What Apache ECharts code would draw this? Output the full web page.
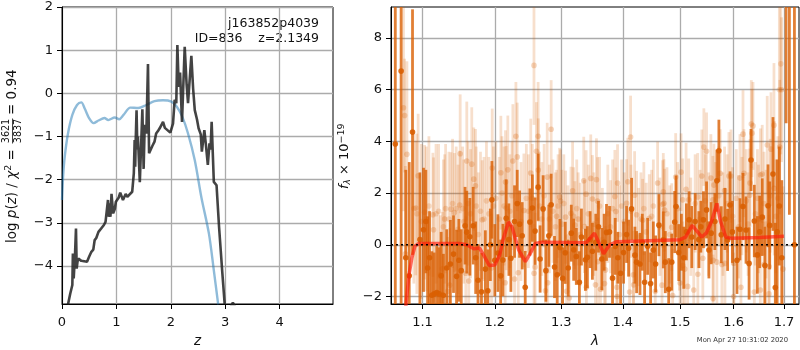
<!DOCTYPE html>
<html>
<head>
<meta charset="utf-8">
<title>j163852p4039</title>
<script src="https://cdn.jsdelivr.net/npm/echarts@6/dist/echarts.min.js"></script>
<style>
  html, body { margin: 0; padding: 0; background: #fff; }
  #chart { width: 800px; height: 350px; }
</style>
</head>
<body>
<div id="chart"></div>
<script>
// left panel: redshift curves
var zTicks = [0, 1, 2, 3, 4];
var logpTicks = [-4, -3, -2, -1, 0, 1, 2];
var pzCurve = [
  [0.11,-4.89],[0.15,-4.65],[0.19,-4.44],[0.20,-3.71],[0.215,-4.29],[0.24,-3.71],[0.257,-3.13],[0.27,-4.06],[0.285,-3.9],[0.30,-3.83],
  [0.33,-3.87],[0.355,-3.88],[0.39,-3.85],[0.46,-3.90],[0.5,-3.78],[0.54,-3.67],[0.575,-3.62],[0.60,-3.4],[0.63,-3.35],[0.67,-3.21],[0.72,-3.13],[0.77,-3.05],[0.80,-2.98],[0.83,-2.98],[0.845,-2.47],
  [0.86,-2.86],[0.875,-2.55],[0.89,-2.86],[0.91,-2.33],[0.94,-2.78],[0.97,-2.68],[0.99,-2.51],[1.04,-2.42],[1.07,-2.30],[1.12,-2.47],
  [1.17,-2.33],[1.2,-2.4],[1.23,-2.36],[1.29,-2.28],[1.32,-1.85],[1.335,-1.08],[1.345,-1.7],[1.355,-1.08],[1.37,-0.39],[1.385,-1.3],[1.395,-1.0],
  [1.43,-2.06],[1.477,-0.37],[1.50,-1.75],[1.52,-0.73],[1.55,-0.93],[1.58,0.68],[1.60,-1.39],[1.625,-1.36],
  [1.66,-1.22],[1.70,-1.12],[1.73,-0.93],[1.76,-0.88],[1.795,-0.81],[1.83,-0.83],[1.857,-0.66],[1.89,-0.8],[1.92,-0.81],[1.99,-0.91],[2.04,-0.70],
  [2.07,-0.15],[2.10,-0.23],[2.12,1.12],[2.145,0.15],[2.17,0.48],[2.205,-0.66],[2.255,1.08],[2.29,0.2],[2.316,-0.23],
  [2.377,0.87],[2.41,0.1],[2.44,-0.39],[2.48,-0.6],[2.51,-0.81],[2.55,-0.95],[2.57,-1.35],[2.616,-0.85],[2.645,-1.2],[2.68,-1.66],[2.71,-1.16],[2.73,-1.3],[2.75,-0.66],
  [2.79,-2.05],[2.84,-2.13],[2.886,-3.09],[2.947,-4.17],[2.99,-4.89],[null,null],[3.10,-4.95],[3.14,-4.85],[3.18,-4.95]
];
var priorCurve = [
  [0,-2.47],[0.02,-1.93],[0.05,-1.47],[0.11,-0.93],[0.19,-0.50],[0.276,-0.27],[0.355,-0.21],[0.417,-0.35],
  [0.50,-0.58],[0.58,-0.69],[0.67,-0.63],[0.78,-0.57],[0.85,-0.62],[0.97,-0.56],[1.05,-0.60],[1.13,-0.50],
  [1.256,-0.33],[1.40,-0.34],[1.55,-0.27],[1.70,-0.18],[1.857,-0.16],[2.01,-0.19],[2.11,-0.31],[2.21,-0.54],
  [2.316,-0.93],[2.44,-1.55],[2.56,-2.40],[2.70,-3.25],[2.79,-4.10],[2.87,-4.89]
];

// right panel: spectrum
var waveTicks = [1.1, 1.2, 1.3, 1.4, 1.5, 1.6, 1.7];
var fluxTicks = [-2, 0, 2, 4, 6, 8];

var darkWave = [
  1.0645,1.072,1.078,1.0825,1.0868,1.0965,1.1013,1.1044,1.1067,1.1093,
  1.1124,1.1155,1.119,1.1222,1.125,1.128,1.1325,1.1375,1.1418,1.146,
  1.1492,1.1525,1.1578,1.1602,1.1645,1.1692,1.1727,1.176,1.1809,1.1864,
  1.19,1.1936,1.1958,1.2,1.2045,1.2085,1.2118,1.2166,1.2205,1.2235,
  1.2289,1.2329,1.2364,1.2403,1.2448,1.2518,1.2556,1.2597,1.2643,1.2673,
  1.2719,1.2762,1.2807,1.2843,1.2895,1.2937,1.2979,1.3021,1.3063,1.311,
  1.3158,1.3196,1.3238,1.3287,1.332,1.3384,1.3416,1.346,1.3497,1.3552,
  1.3596,1.3651,1.3689,1.3728,1.3778,1.3828,1.3873,1.3917,1.3963,1.4013,
  1.4064,1.4098,1.4149,1.4206,1.4235,1.4293,1.4333,1.4373,1.4425,1.4477,
  1.4524,1.4565,1.4623,1.47,1.4736,1.4796,1.485,1.4903,1.4928,1.4976,
  1.5024,1.5067,1.5115,1.5164,1.5213,1.5275,1.5343,1.538,1.5429,1.5486,
  1.553,1.5573,1.5642,1.568,1.5718,1.5763,1.5833,1.5884,1.593,1.5975,
  1.6064,1.6122,1.6181,1.624,1.63,1.6338,1.6403,1.6463,1.651,1.656,
  1.6615,1.6676,1.671,1.6776,1.6823,1.686,1.6905,1.6955,1.7043,1.7111,
  1.7215
];
var darkFlux = [
  3.9,6.72,-0.5,-1.2,4.36,0.2,0.58,0.9,-0.9,-0.5,
  -1.95,-1.9,-1.85,-1.9,-1.2,-1.95,-0.9,-0.74,-0.36,-1.22,
  -0.6,-1.0,0.74,0.49,0.31,0.74,-0.5,-1.37,-1.82,-0.94,
  -1.78,0.0,1.74,-0.6,-0.32,-1.2,-0.59,1.03,0.2,-0.52,
  0.9,1.6,0.8,0.35,-1.64,0.88,1.42,0.53,2.23,-0.55,
  1.39,-1.0,0.35,1.55,-0.86,-1.16,-0.1,-1.3,-0.31,-0.9,
  0.45,-0.19,-0.45,-1.45,0.3,-0.58,-0.48,0.2,-0.25,0.1,
  0.7,-0.55,0.1,0.48,0.5,-1.29,-0.06,-0.5,-1.1,-0.3,
  0.4,-0.13,1.39,-0.4,-0.67,-0.74,0.1,-1.45,-0.06,-1.5,
  -0.2,-0.74,0.76,0.19,-0.67,-1.72,-0.67,0.88,1.48,-0.3,
  0.1,-0.5,0.5,0.97,0.3,0.9,0.2,0.7,0.97,1.35,
  -0.2,0.45,0.9,2.48,3.64,0.39,1.0,0.19,1.54,0.5,
  -0.6,0.6,1.48,0.57,-0.72,3.28,0.92,-0.39,0.5,1.07,
  -0.8,1.51,0.75,2.74,-1.65,0.5,1.5,-0.5,20,12,
  0
];
var darkErr = [
  9,9,3.4,4.4,4.75,2.6,2.4,2,2,1.8,
  1.7,1.6,1.8,1.8,1.7,1.6,1.5,1.7,1.5,1.8,
  1.6,1.6,1.5,1.6,1.5,1.5,1.4,1.4,1.5,1.5,
  1.6,1.4,1.5,1.4,1.5,1.4,1.4,1.5,1.4,1.3,
  1.4,1.3,1.3,1.3,1.4,1.3,1.3,1.3,1.3,1.3,
  1.3,1.2,1.2,1.2,1.2,1.2,1.1,1.2,1.2,1.1,
  1.1,1.2,1.1,1.2,1.1,1.2,1.2,1.1,1.1,1.1,
  1,1.2,1.1,1.1,1,1.2,1.1,1,1.2,1.2,
  1.1,1.1,1.2,1.1,1.2,1.2,1.1,1.2,1.1,1.2,
  1.1,1.1,1.2,1.1,1.2,1.2,1.1,1.2,1.2,1.1,
  1.1,1.2,1.1,1.1,1.2,1.1,1.1,1,1.1,1.1,
  1.1,1.2,1.1,1.2,1.2,1.1,1.2,1.2,1.3,1.2,
  1.3,1.2,1.3,1.3,1.4,1.2,1.4,1.5,1.4,1.5,
  1.5,1.6,1.7,2.2,2.5,2.8,2.3,3,15.3,10.84,
  20
];

var lightWave = [
  1.075,1.0765,1.0775,1.0795,1.0911,1.0942,1.1027,1.1138,1.1147,1.1238,
  1.1265,1.1297,1.1338,1.1366,1.1384,1.143,1.1504,1.151,1.1588,1.1602,
  1.163,1.1672,1.17,1.1724,1.1819,1.1953,1.1963,1.2088,1.2151,1.2156,
  1.2166,1.219,1.2264,1.2289,1.2309,1.2329,1.2344,1.2428,1.2531,1.258,
  1.2581,1.2597,1.2617,1.2643,1.2645,1.2755,1.2782,1.279,1.2843,1.2927,
  1.2974,1.2989,1.3068,1.3084,1.3126,1.3153,1.3179,1.3216,1.3268,1.3357,
  1.3367,1.3395,1.34,1.347,1.3497,1.3547,1.3563,1.358,1.3585,1.3629,
  1.3695,1.3712,1.3867,1.3884,1.3901,1.3905,1.3912,1.4064,1.4086,1.4115,
  1.4132,1.4178,1.4184,1.4201,1.4235,1.4339,1.4454,1.4559,1.46,1.4677,
  1.4689,1.47,1.4712,1.4724,1.485,1.4867,1.4921,1.4988,1.5,1.5018,
  1.5048,1.505,1.5085,1.5109,1.5139,1.5158,1.5249,1.5322,1.5325,1.5398,
  1.5417,1.5436,1.5486,1.5567,1.5605,1.5608,1.561,1.5624,1.568,1.5743,
  1.5775,1.5826,1.5833,1.5909,1.5948,1.6,1.6005,1.6122,1.6141,1.6181,
  1.62,1.6311,1.6318,1.6344,1.6357,1.6377,1.6403,1.6522,1.6525,1.656,
  1.6595,1.666,1.6695,1.6698,1.6736,1.6796,1.68,1.6913,1.695,1.698
];
var lightFlux = [
  5.3,5.0,-0.35,3.5,1.42,2.67,1.26,1.16,0.58,-1.16,
  -0.93,1.0,-1.8,-1.56,1.38,1.25,1.54,3.52,-1.1,3.24,
  -1.4,3.12,2.54,2.28,0.97,-0.9,2.97,2.79,-1.47,2.43,
  1.42,2.9,3.24,-1.32,4.2,3.4,-1.08,1.33,2.78,6.94,
  -1.1,-0.86,3.62,4.2,2.89,-1.78,2.62,-1.47,4.47,1.1,
  1.85,1.69,1.07,-1.8,-2.06,1.22,2.09,0.76,1.0,2.48,
  0.71,1.96,-1.64,2.57,1.77,-1.55,2.52,1.69,-0.65,-1.72,
  -1.5,-0.97,1.87,1.29,-1.64,-2.0,2.39,1.61,2.44,-1.83,
  4.17,-1.16,-1.55,1.92,1.16,0.95,1.03,-1.8,2.39,-1.56,
  1.57,2.05,1.61,1.34,0.68,-1.96,2.62,-0.17,-1.48,2.81,
  1.74,-0.8,-0.94,2.15,-1.61,1.74,-1.75,1.85,-1.14,2.66,
  -0.52,3.78,3.62,2.58,1.74,-2.08,-0.6,2.31,-0.67,2.77,
  -0.76,2.1,-0.72,2.66,2.66,-2.0,-0.71,2.58,-1.64,4.28,
  2.77,1.92,2.39,4.67,4.32,4.6,-1.83,-1.75,2.7,2.74,
  -0.76,3.86,-1.9,-0.84,3.7,4.63,2.19,3.78,6.0,-0.94
];
var lightErr = [
  4,2.2,3.4,3.6,2.6,2.4,2.6,2.4,2.8,2.3,
  2.2,2.5,2.1,2.2,2.2,2.3,2.1,2.3,2.2,2.3,
  2,2.2,2,2.2,2.3,2.1,2.3,2.2,2.2,2,
  2.4,2.1,2.2,2,2.1,2.1,1.9,2.2,2.1,2.3,
  1.9,2.1,1.9,2.1,2,2,2.1,1.9,1.9,1.8,
  1.9,2,1.8,1.9,1.8,1.8,1.9,1.7,1.8,1.7,
  1.8,1.7,1.8,1.7,1.7,1.8,1.6,1.7,1.7,1.8,
  1.7,1.7,1.8,1.7,1.7,1.6,1.5,1.7,1.7,1.7,
  1.6,1.7,1.6,1.7,1.7,1.6,1.7,1.7,1.6,1.7,
  1.7,1.5,1.7,1.6,1.7,1.8,1.7,1.6,1.7,1.5,
  1.6,1.7,1.6,1.8,1.7,1.6,1.7,1.7,1.7,1.8,
  1.6,1.5,1.5,1.7,1.7,1.7,1.6,1.6,1.6,1.7,
  1.7,1.7,1.6,1.7,1.8,1.7,1.7,1.7,1.8,1.7,
  1.7,1.8,1.7,1.7,1.7,1.7,1.8,2,1.8,1.9,
  1.9,1.9,2.1,2,2.2,2.4,2.6,2.6,2.8,3.2
];
// faint bars whose dots sit hidden in the crowded middle of the band
var bandWave = [
  1.0885,1.0925,1.0985,1.105,1.1085,1.118,1.1215,1.128,1.131,1.1355,
  1.1405,1.1455,1.148,1.1545,1.156,1.162,1.1655,1.1735,1.1765,1.1795,
  1.1845,1.188,1.1915,1.198,1.2015,1.2065,1.2105,1.2135,1.222,1.225,
  1.2385,1.2465,1.2495,1.2555,1.2665,1.27,1.2735,1.2815,1.287,1.291,
  1.295,1.301,1.304,1.3105,1.3195,1.3245,1.33,1.343,1.352,1.3615,
  1.366,1.375,1.3795,1.383,1.3945,1.398,1.4025,1.414,1.427,1.431,
  1.436,1.44,1.4495,1.4525,1.464,1.4765,1.4815,1.4955,1.5195,1.5275,
  1.5365,1.5465,1.5525,1.5655,1.5715,1.5795,1.5875,1.598,1.605,1.6095,
  1.616,1.6245,1.628,1.6425,1.6465,1.6485,1.6595,1.6635,1.672,1.6835,
  1.6875,1.6905,1.6935
];
var bandFlux = [
  1.4,1.2,0.9,1.0,1.5,1.2,1.3,0.7,1.4,1.0,
  1.6,1.4,0.6,1.4,0.9,1.6,1.2,1.5,0.4,1.3,
  1.0,1.7,1.2,1.5,1.8,1.0,2.0,1.5,1.3,1.9,
  0.9,1.8,1.3,1.8,1.5,1.0,1.9,1.0,1.3,0.7,
  1.5,0.8,1.6,0.3,1.1,1.4,0.4,1.2,0.8,1.5,
  0.2,1.2,0.7,1.4,0.4,1.5,0.9,1.3,0.3,1.0,
  1.4,0.5,1.1,1.5,0.7,1.2,0.4,1.4,0.7,1.6,
  1.0,1.7,0.8,1.3,1.9,0.8,1.6,1.1,1.8,0.7,
  1.5,1.7,0.8,1.2,1.8,1.0,1.6,0.8,1.9,1.1,
  1.8,6.0,7.0
];
var bandErr = [
  2.9,3.1,3.0,2.8,2.7,2.7,2.6,2.6,2.5,2.6,
  2.5,2.4,2.5,2.4,2.4,2.4,2.5,2.3,2.4,2.3,
  2.4,2.3,2.2,2.3,2.2,2.4,2.2,2.3,2.2,2.1,
  2.3,2.1,2.2,2.1,2.1,2.2,2,2.1,2,2.1,
  2,2.1,1.9,2,1.9,1.9,2,1.9,2,1.9,
  2,1.9,1.8,1.9,1.9,1.8,1.9,1.8,1.9,1.8,
  1.8,1.9,1.8,1.8,1.9,1.8,1.9,1.8,1.9,1.9,
  1.9,1.8,2,1.9,1.9,2,1.9,1.9,1.9,2,
  1.9,2,2,2,1.9,2.1,2,2.1,2.2,2.2,
  2.4,4,3.5
];
var modelCurve = [
  [1.078,-2.4],[1.082,-1.2],[1.086,-0.5],[1.09,-0.05],[1.095,0.05],[1.15,0.05],[1.16,0],[1.17,-0.15],
  [1.178,-0.12],[1.186,-0.5],[1.192,-0.8],[1.2,-0.78],[1.207,-0.4],[1.212,0.2],[1.22,0.88],[1.225,0.7],
  [1.235,-0.2],[1.245,-0.65],[1.252,-0.35],[1.26,0.05],[1.27,0.1],[1.34,0.08],[1.353,0.45],[1.36,0.1],
  [1.368,-0.35],[1.378,0],[1.39,0.12],[1.5,0.2],[1.51,0.3],[1.522,0.75],[1.53,0.55],[1.54,0.3],
  [1.548,0.45],[1.558,0.9],[1.568,1.6],[1.575,0.9],[1.585,0.3],[1.595,0.25],[1.65,0.28],[1.7,0.33]
];
var zeroLine = [[1.059, 0], [1.731, 0]];

var fontName = '"DejaVu Sans"';
var gridColor = '#ababab';
var orange = '#d95f02';
var labelSize = 13;

function minusLabel(v) {
  return String(v).replace('-', '\u2212');
}

function panelAxis(extra) {
  // common look of all four axes, matplotlib style
  var ax = {
    nameLocation: 'middle',
    axisLine: { show: true, onZero: false, lineStyle: { color: '#000', width: 1 } },
    axisTick: { show: true, length: 5, lineStyle: { color: '#000', width: 1 } },
    axisLabel: { color: '#111', fontFamily: fontName, fontSize: labelSize, margin: extra.labelMargin, formatter: minusLabel, hideOverlap: false, showMinLabel: true, showMaxLabel: true },
    splitLine: { show: true, lineStyle: { color: gridColor, width: 1.3 } }
  };
  for (var k in extra) {
    if (k === 'ticks') {
      ax.axisTick.customValues = extra.ticks;
      ax.axisLabel.customValues = extra.ticks;
    } else if (k !== 'labelMargin') {
      ax[k] = extra[k];
    }
  }
  return ax;
}

function errorBars(wave, flux, err, color, alpha, z) {
  var rows = wave.map(function (w, i) { return [w, flux[i], err[i]]; });
  return {
    type: 'custom',
    xAxisIndex: 1, yAxisIndex: 1,
    z: z,
    clip: true,
    silent: true,
    data: rows,
    renderItem: function (params, api) {
      var x = api.value(0), y = api.value(1), e = api.value(2);
      var lo = api.coord([x, y - e]);
      var hi = api.coord([x, y + e]);
      return {
        type: 'line',
        shape: { x1: lo[0], y1: lo[1], x2: hi[0], y2: hi[1] },
        style: { stroke: color, opacity: alpha, lineWidth: 2.8, fill: null }
      };
    }
  };
}

function dots(wave, flux, alpha, z) {
  return {
    type: 'scatter',
    xAxisIndex: 1, yAxisIndex: 1,
    z: z,
    silent: true,
    symbolSize: 5.6,
    itemStyle: { color: orange, opacity: alpha },
    data: wave.map(function (w, i) { return [w, flux[i]]; })
  };
}

var chart = echarts.init(document.getElementById('chart'), null, { renderer: 'canvas' });

var option = {
  animation: false,
  backgroundColor: '#fff',
  textStyle: { fontFamily: fontName },
  grid: [
    { left: 62, top: 7, width: 271, height: 297, show: true, borderColor: '#000', borderWidth: 1, containLabel: false, outerBoundsMode: 'none' },
    { left: 391, top: 7, width: 408, height: 297, show: true, borderColor: '#000', borderWidth: 1, containLabel: false, outerBoundsMode: 'none' }
  ],
  xAxis: [
    panelAxis({
      gridIndex: 0, type: 'value', min: 0, max: 4.98, ticks: zTicks, labelMargin: 12,
      name: 'z', nameGap: 30,
      nameTextStyle: { fontStyle: 'italic', fontSize: 13.5, color: '#111', fontFamily: fontName }
    }),
    panelAxis({
      gridIndex: 1, type: 'log', logBase: 10, min: 1.059, max: 1.731, ticks: waveTicks, labelMargin: 12,
      name: '\u03bb', nameGap: 30,
      nameTextStyle: { fontStyle: 'italic', fontSize: 13.5, color: '#111', fontFamily: fontName }
    })
  ],
  yAxis: [
    panelAxis({ gridIndex: 0, type: 'value', min: -4.88, max: 2, ticks: logpTicks, labelMargin: 9 }),
    panelAxis({ gridIndex: 1, type: 'value', min: -2.29, max: 9.2, ticks: fluxTicks, labelMargin: 9 })
  ],
  series: [
    {
      type: 'line', xAxisIndex: 0, yAxisIndex: 0, data: priorCurve, smooth: 0.3,
      showSymbol: false, silent: true, z: 3,
      lineStyle: { color: '#1f77b4', opacity: 0.5, width: 2.4 }
    },
    {
      type: 'line', xAxisIndex: 0, yAxisIndex: 0, data: pzCurve,
      showSymbol: false, silent: true, z: 4, connectNulls: false,
      lineStyle: { color: '#222', opacity: 0.85, width: 2.6 }
    },
    errorBars(lightWave, lightFlux, lightErr, orange, 0.2, 3),
    errorBars(bandWave, bandFlux, bandErr, orange, 0.2, 3),
    dots(lightWave, lightFlux, 0.25, 3),
    dots(bandWave, bandFlux, 0.2, 3),
    errorBars(darkWave, darkFlux, darkErr, orange, 0.8, 4),
    dots(darkWave, darkFlux, 0.9, 4),
    {
      type: 'line', xAxisIndex: 1, yAxisIndex: 1, data: modelCurve,
      showSymbol: false, silent: true, z: 6,
      lineStyle: { color: '#ff1a0a', opacity: 0.65, width: 3.5 }
    },
    {
      type: 'line', xAxisIndex: 1, yAxisIndex: 1, data: zeroLine,
      showSymbol: false, silent: true, z: 7,
      lineStyle: { color: '#000', width: 1.6, type: [2, 3] }
    }
  ],
  graphic: [
    { type: 'text', right: 481, top: 17, style: { text: 'j163852p4039', fontFamily: fontName, fontSize: 12.5, fill: '#111', align: 'right' } },
    { type: 'text', right: 481, top: 32, style: { text: 'ID=836    z=2.1349', fontFamily: fontName, fontSize: 12.5, fill: '#111', align: 'right' } },
    { type: 'text', right: 12, top: 337, style: { text: 'Mon Apr 27 10:31:02 2020', fontFamily: fontName, fontSize: 6.8, fill: '#333', align: 'right' } },
    // y label of the left panel, built piece by piece for the stacked fraction
    {
      type: 'group', x: 12, y: 243, rotation: Math.PI / 2,
      children: [
        { type: 'text', x: 0, y: 0, style: {
            rich: { i: { fontStyle: 'italic', fontFamily: fontName, fontSize: 13.5, fill: '#111' },
                    n: { fontFamily: fontName, fontSize: 13.5, fill: '#111' },
                    s: { fontFamily: fontName, fontSize: 9.5, fill: '#111', padding: [0, 0, 7, 0] } },
            text: '{n|log }{i|p}{n|(}{i|z}{n|) / }{i|\u03c7}{s|2}{n| =}',
            verticalAlign: 'middle' } },
        { type: 'text', x: 112, y: -5.5, style: { text: '3621', align: 'center', verticalAlign: 'middle', fontFamily: fontName, fontSize: 9.6, fill: '#111' } },
        { type: 'text', x: 112, y: 6, style: { text: '3837', align: 'center', verticalAlign: 'middle', fontFamily: fontName, fontSize: 9.6, fill: '#111' } },
        { type: 'line', shape: { x1: 99.5, y1: 0.5, x2: 124.5, y2: 0.5 }, style: { stroke: '#111', lineWidth: 0.8 } },
        { type: 'text', x: 128, y: 0, style: { text: '= 0.94', verticalAlign: 'middle', fontFamily: fontName, fontSize: 13.5, fill: '#111' } }
      ]
    },
    // y label of the right panel
    {
      type: 'text', x: 345, y: 189, rotation: Math.PI / 2,
      style: {
        rich: { i: { fontStyle: 'italic', fontFamily: fontName, fontSize: 13, fill: '#111' },
                b: { fontStyle: 'italic', fontFamily: fontName, fontSize: 9, fill: '#111', padding: [6, 0, 0, 0] },
                n: { fontFamily: fontName, fontSize: 13, fill: '#111' },
                s: { fontFamily: fontName, fontSize: 9.5, fill: '#111', padding: [0, 0, 7, 0] } },
        text: '{i|f}{b|\u03bb}{n| \u00d7 10}{s|\u221219}',
        verticalAlign: 'middle'
      }
    }
  ]
};

chart.setOption(option);
</script>
</body>
</html>
